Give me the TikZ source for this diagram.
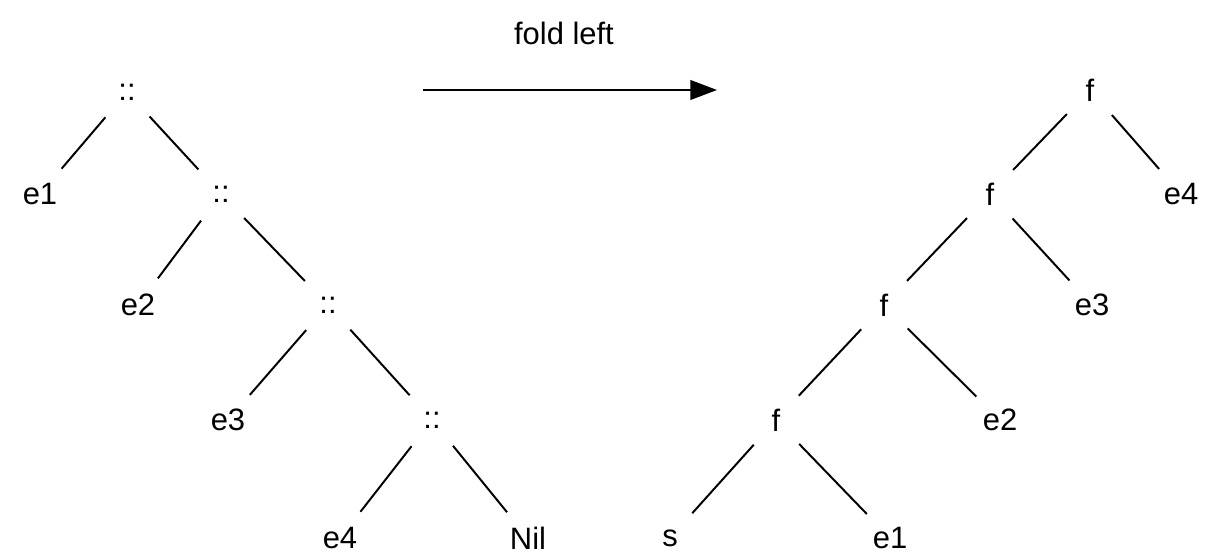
\documentclass[tikz,border=0pt]{standalone}
\usepackage{fontspec}
\setmainfont{Liberation Sans}
\usetikzlibrary{arrows.meta}
\tikzset{
  elem/.style={circle,minimum size=1.65cm,inner sep=0pt},
  ag/.style={line width=1.4pt},
  nyil/.style={line width=1.4pt,-{Triangle[length=19pt,width=14pt]}},
}

\begin{document}
\begin{tikzpicture}[font=\fontsize{22}{26}\selectfont]
  \useasboundingbox (0,0) rectangle (30.425,13.925);
  % list built with ::
  \node[elem] (c1) at (3.175,11.625) {::};
  \node[elem] (c2) at (5.525,9.075) {::};
  \node[elem] (c3) at (8.2,6.3) {::};
  \node[elem] (c4) at (10.8,3.425) {::};
  \node[elem] (le1) at (1.0,9.075) {e1};
  \node[elem] (le2) at (3.45,6.3) {e2};
  \node[elem] (le3) at (5.7,3.425) {e3};
  \node[elem] (le4) at (8.5,0.475) {e4};
  \node[elem] (nil) at (13.2,0.475) {Nil};
  \foreach \a/\b in {c1/le1,c1/c2,c2/le2,c2/c3,c3/le3,c3/c4,c4/le4,c4/nil}
    \draw[ag] (\a) -- (\b);
  % the arrow between the two trees
  \coordinate (from) at (10.575,11.675);
  \coordinate (to) at (17.925,11.675);
  \draw[nyil] (from) -- (to);
  \node (lab) at (14.1,13.1) {fold left};
  % result of folding
  \node[elem] (f1) at (27.25,11.675) {f};
  \node[elem] (f2) at (24.75,9.075) {f};
  \node[elem] (f3) at (22.1,6.3) {f};
  \node[elem] (f4) at (19.4,3.425) {f};
  \node[elem] (s) at (16.75,0.475) {s};
  \node[elem] (re1) at (22.25,0.475) {e1};
  \node[elem] (re2) at (25.0,3.425) {e2};
  \node[elem] (re3) at (27.3,6.3) {e3};
  \node[elem] (re4) at (29.525,9.075) {e4};
  \foreach \a/\b in {f1/f2,f1/re4,f2/f3,f2/re3,f3/f4,f3/re2,f4/s,f4/re1}
    \draw[ag] (\a) -- (\b);
\end{tikzpicture}
\end{document}
